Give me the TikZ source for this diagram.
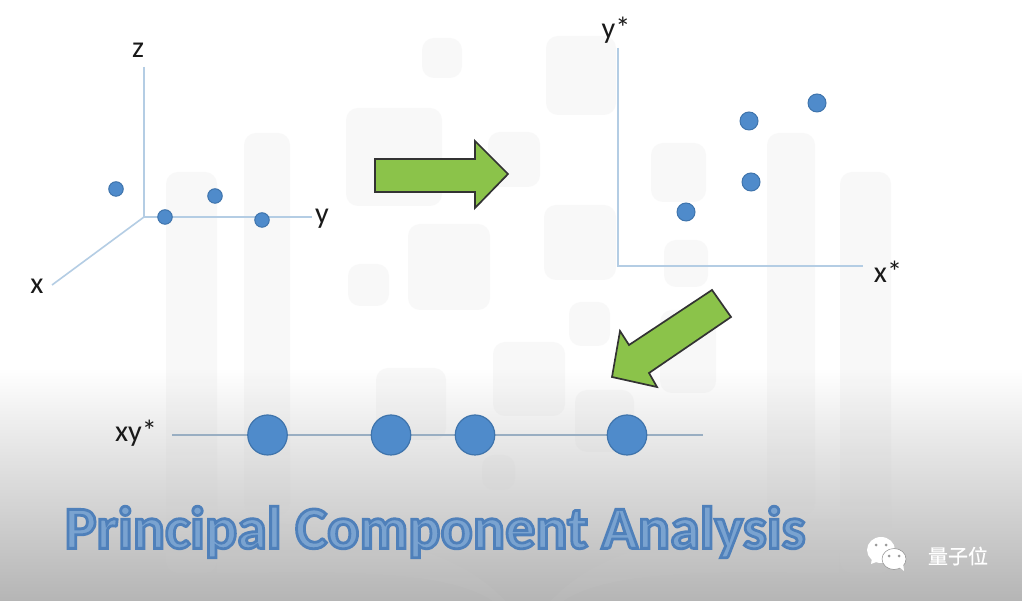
\documentclass[tikz,border=0pt]{standalone}
\usepackage{xcolor}
\usepackage{fontspec}
\usepackage{tikz}
\usetikzlibrary{shapes.geometric}
\setmainfont{Carlito}
\newfontfamily\cjkfont[FakeBold=0.6]{Noto Sans CJK SC}
\definecolor{axisblue}{HTML}{B4CDE4}
\definecolor{dotblue}{HTML}{4F8BCB}
\definecolor{dotline}{HTML}{3F74AC}
\definecolor{arrowgreen}{HTML}{8BC34A}
\definecolor{titleblue}{HTML}{7AA3D0}
\newcommand{\outlined}[1]{\special{pdf:code q 2 Tr 0.8 w 0.31 0.50 0.73 RG}#1\special{pdf:code Q}}
\tikzset{axisline/.style={axisblue,line width=0.16mm},
  dotsmall/.style={circle,draw=dotline,fill=dotblue,line width=0.1mm,inner sep=0pt,minimum size=1.45mm},
  dotmid/.style={dotsmall,minimum size=1.8mm},
  dotbig/.style={ellipse,draw=dotline,fill=dotblue,line width=0.12mm,inner sep=0pt,minimum width=3.95mm,minimum height=4mm},
  bigarrow/.style={draw=black!80,fill=arrowgreen,line width=0.17mm,line join=miter},
  axislabel/.style={font=\fontsize{8.6}{10}\selectfont,text=black!90,inner sep=0pt},
  markrect/.style={black!20,fill opacity=0.13,rounded corners=1.2mm}}

\begin{document}
\begin{tikzpicture}[x=0.1mm,y=-0.1mm]
\useasboundingbox (0,0) rectangle (1022,601);
\fill[white] (0,0) rectangle (1022,601);
\shade[top color=white,bottom color=black!29] (0,368) rectangle (1022,601);
% faint logo behind the slide
\foreach \xa/\ya/\xb/\yb in {422/38/462/78, 546/36/616/115, 346/108/442/206, 488/132/540/187, 651/143/706/202,
  544/205/616/280, 408/224/490/310, 348/264/389/306, 664/240/708/287, 569/302/610/346, 493/342/565/416,
  376/368/446/440, 575/390/634/452, 660/310/716/393, 482/455/515/490,
  244/133/290/515, 166/172/217/573, 767/133/815/515, 840/172/891/573}
  \fill[markrect] (\xa,\ya) rectangle (\xb,\yb);
\fill[black!20,fill opacity=0.13] (217,520) -- (250,520) .. controls (340,530) and (450,540) .. (505,601) -- (493,601) .. controls (440,565) and (300,573) .. (217,573) -- cycle;
\fill[black!20,fill opacity=0.13] (839,520) -- (806,520) .. controls (716,530) and (606,540) .. (551,601) -- (563,601) .. controls (616,565) and (756,573) .. (839,573) -- cycle;
% xyz axes
\coordinate (O) at (144,217); \coordinate (Z) at (144,67); \coordinate (Y) at (312,217); \coordinate (X) at (52,285);
\draw[axisline] (Z)--(O)--(Y); \draw[axisline] (O)--(X);
\node[axislabel] (zlabel) at (138,50) {z}; \node[axislabel] (ylabel) at (322,219) {y}; \node[axislabel] (xlabel) at (37,286) {x};
\node[dotsmall] (a1) at (116,189) {}; \node[dotsmall] (a2) at (165,217) {};
\node[dotsmall] (a3) at (215,196) {}; \node[dotsmall] (a4) at (262,220) {};
% x*y* axes
\coordinate (Ostar) at (618,266); \coordinate (Ystar) at (618,48); \coordinate (Xstar) at (863,266);
\draw[axisline] (Ystar)--(Ostar)--(Xstar);
\node[axislabel] (ystarlabel) at (616,30) {y*}; \node[axislabel] (xstarlabel) at (888,272) {x*};
\node[dotmid] (b1) at (817,103) {}; \node[dotmid] (b2) at (749,121) {};
\node[dotmid] (b3) at (751,182) {}; \node[dotmid] (b4) at (686,212) {};
% arrows
\draw[bigarrow] (375,159)--(475,159)--(475,141)--(508,174)--(475,208)--(475,192)--(375,192)--cycle;
\draw[bigarrow] (712,290)--(731,317)--(649,373)--(657,387)--(612,377)--(620,331)--(629,345)--cycle;
% xy* line
\coordinate (L) at (172,435); \coordinate (R) at (703,435);
\draw[axisblue!85!black,line width=0.12mm] (L)--(R);
\node[axislabel] (xylabel) at (136,433) {xy*};
\foreach \nm/\xp in {c1/267.5,c2/391,c3/475,c4/627} \node[dotbig] (\nm) at (\xp,435) {};
% title and mark
\node[font=\fontsize{17.1}{20}\selectfont\bfseries,text=titleblue,inner sep=0pt] (title) at (435,532) {\outlined{Principal Component Analysis}};
\fill[white] (881,550) ellipse (14 and 13); \fill[white] (872,558)--(871,564)--(879,561)--cycle;
\draw[black!45,fill=white,line width=0.05mm] (894,559) ellipse (12 and 10.5);
\fill[white] (898,566)--(904,571)--(903,562)--cycle;
\foreach \xp/\yp in {876/545,886/545,889/556,899/556} \fill[black!40] (\xp,\yp) circle (1.5);
\node[font=\cjkfont\fontsize{5.7}{7}\selectfont,text=white,inner sep=0pt] (mark) at (958,556) {量子位};
\end{tikzpicture}
\end{document}
